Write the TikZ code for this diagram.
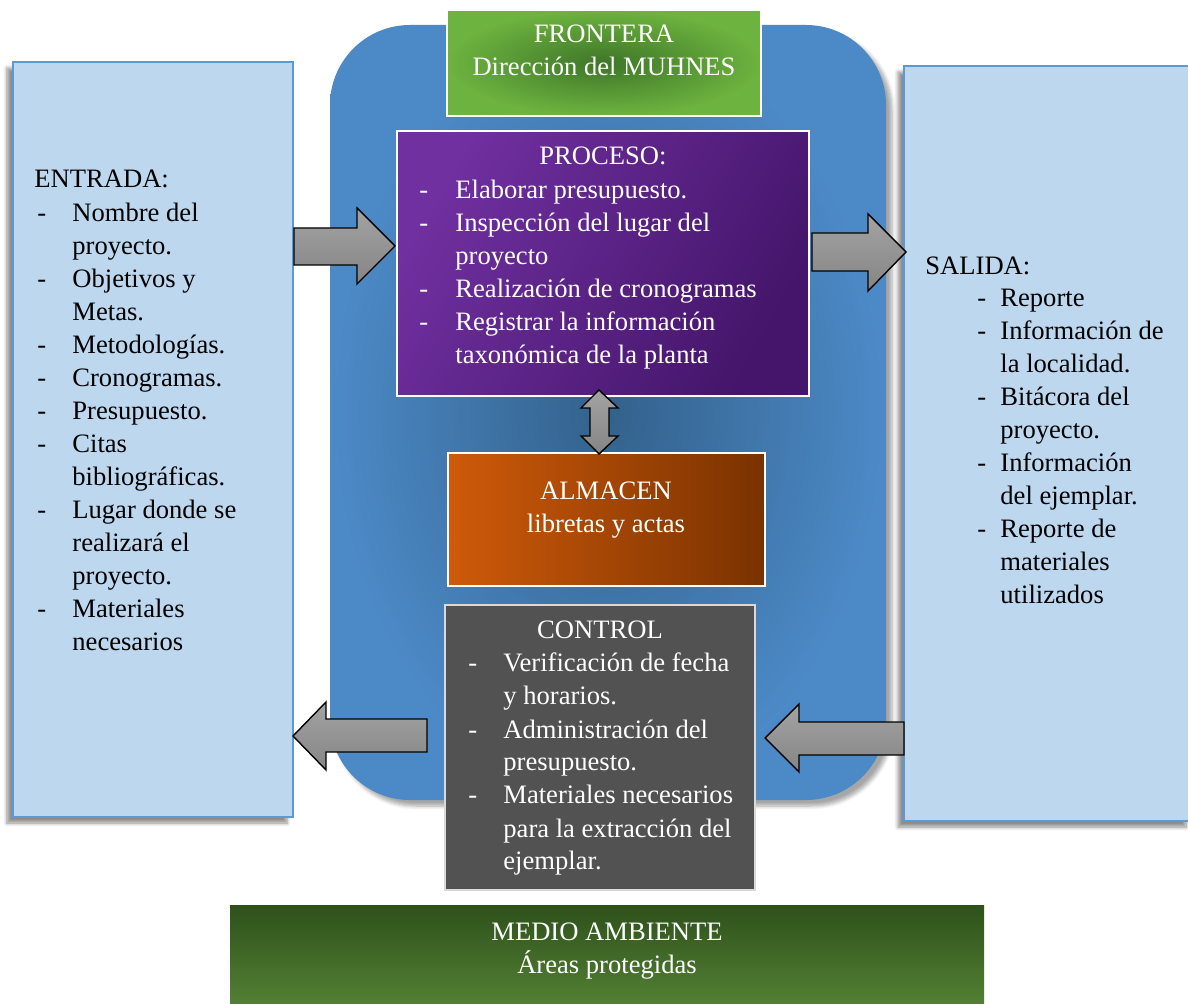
\documentclass[tikz,border=0pt]{standalone}
\usepackage{fontspec}
\setmainfont{Liberation Serif}
\usetikzlibrary{shadows.blur}

\definecolor{bgin}{HTML}{33618B}
\definecolor{bgout}{HTML}{4C8AC7}
\definecolor{sidefill}{HTML}{BDD7EE}
\definecolor{sideedge}{HTML}{5B9BD5}
\definecolor{frin}{HTML}{3E7628}
\definecolor{frout}{HTML}{6DB33F}
\definecolor{prA}{HTML}{7030A0}
\definecolor{prB}{HTML}{44156A}
\definecolor{alA}{HTML}{CF5A0A}
\definecolor{alB}{HTML}{793200}
\definecolor{ctfill}{HTML}{525252}
\definecolor{maTop}{HTML}{2E511B}
\definecolor{maBot}{HTML}{548235}
\definecolor{arTop}{HTML}{A3A3A3}
\definecolor{arBot}{HTML}{858585}

% list with a dash column of the given width
\newcommand{\dashlist}[2]{\begin{tabular}[t]{@{}p{#1}@{}l@{}}#2\end{tabular}}
\newcommand{\twolines}[2]{\begin{tabular}[t]{@{}c@{}}#1\\#2\end{tabular}}

\begin{document}
\begin{tikzpicture}[x=0.5pt,y=-0.5pt,
  font=\fontsize{13.3}{16.5}\selectfont,
  sidebox/.style={draw=sideedge, line width=1pt, fill=sidefill,
    minimum width=#1, inner sep=0pt, minimum height=377.5pt,
    blur shadow={shadow xshift=-3pt, shadow yshift=-3pt, shadow opacity=45, shadow blur steps=6}},
  innerbox/.style={draw=white, line width=1pt, inner sep=0pt},
  label/.style={inner sep=0pt, anchor=base, text=white},
  blockarrow/.style={draw=black, line width=0.7pt, top color=arTop, bottom color=arBot, line join=miter},
]
\useasboundingbox (0,0) rectangle (1188,1004);

% system boundary
\path[rounded corners=40pt, inner color=bgin, outer color=bgout,
  blur shadow={shadow xshift=3pt, shadow yshift=-3pt, shadow opacity=35, shadow blur steps=6}]
  (330,25) rectangle (886,800);
\node[inner sep=0pt, minimum width=278pt, minimum height=387.5pt] (sys) at (608,412.5) {};

% side panels
\node[sidebox=140pt] (entrada) at (153,439.5) {};
\node[sidebox=144pt] (salida) at (1048,443.5) {};

% inner boxes
\node[innerbox, minimum width=157pt, minimum height=53pt, inner color=frin, outer color=frout] (frontera) at (604,63) {};
\node[innerbox, minimum width=206pt, minimum height=132.5pt, shading=axis, left color=prA, right color=prB, shading angle=60] (proceso) at (603,263.5) {};
\node[innerbox, minimum width=158.5pt, minimum height=66.5pt, left color=alA, right color=alB] (almacen) at (606.5,519.5) {};
\node[innerbox, minimum width=155pt, minimum height=142.5pt, fill=ctfill, draw=white!85!black] (control) at (600,747.5) {};
\node[inner sep=0pt, minimum width=377pt, minimum height=52pt, top color=maTop, bottom color=maBot] (medio) at (607,957) {};

% texts
\node[label] (fronteraT) at (604,43) {\twolines{FRONTERA}{Dirección del MUHNES}};
\node[label] (almacenT) at (606,500) {\twolines{ALMACEN}{libretas y actas}};
\node[label] (medioT) at (607,940) {\twolines{MEDIO AMBIENTE}{Áreas protegidas}};

\node[label] (procesoH) at (603,165) {PROCESO:};
\node[label, anchor=base west] (procesoL) at (419,199) {\dashlist{18pt}{%
  -&Elaborar presupuesto.\\
  -&Inspección del lugar del\\
   &proyecto\\
  -&Realización de cronogramas\\
  -&Registrar la información\\
   &taxonómica de la planta}};

\node[label] (controlH) at (600,639) {CONTROL};
\node[label, anchor=base west] (controlL) at (468,672) {\dashlist{17.5pt}{%
  -&Verificación de fecha\\
   &y horarios.\\
  -&Administración del\\
   &presupuesto.\\
  -&Materiales necesarios\\
   &para la extracción del\\
   &ejemplar.}};

\node[label, text=black, anchor=base west] (entradaH) at (34,188) {ENTRADA:};
\node[label, text=black, anchor=base west] (entradaL) at (37,222) {\dashlist{17.5pt}{%
  -&Nombre del\\
   &proyecto.\\
  -&Objetivos y\\
   &Metas.\\
  -&Metodologías.\\
  -&Cronogramas.\\
  -&Presupuesto.\\
  -&Citas\\
   &bibliográficas.\\
  -&Lugar donde se\\
   &realizará el\\
   &proyecto.\\
  -&Materiales\\
   &necesarios}};

\node[label, text=black, anchor=base west] (salidaH) at (925,275) {SALIDA:};
\node[label, text=black, anchor=base west] (salidaL) at (977,307) {\dashlist{11.5pt}{%
  -&Reporte\\
  -&Información de\\
   &la localidad.\\
  -&Bitácora del\\
   &proyecto.\\
  -&Información\\
   &del ejemplar.\\
  -&Reporte de\\
   &materiales\\
   &utilizados}};

% block arrows between the boxes
\path[blockarrow] (294,228) -- (357,228) -- (357,208) -- (395,246) -- (357,284) -- (357,265) -- (294,265) -- cycle;
\path[blockarrow] (812,233) -- (868,233) -- (868,214) -- (906,252) -- (868,291) -- (868,271) -- (812,271) -- cycle;
\path[blockarrow] (599,390) -- (618,408) -- (609,408) -- (609,436) -- (618,436) -- (599,454)
  -- (581,436) -- (590,436) -- (590,408) -- (581,408) -- cycle;
\path[blockarrow] (293,736) -- (326,702) -- (326,719) -- (427,719) -- (427,752) -- (326,752) -- (326,770) -- cycle;
\path[blockarrow] (765,738) -- (799,704) -- (799,722) -- (904,722) -- (904,755) -- (799,755) -- (799,772) -- cycle;
\end{tikzpicture}
\end{document}
